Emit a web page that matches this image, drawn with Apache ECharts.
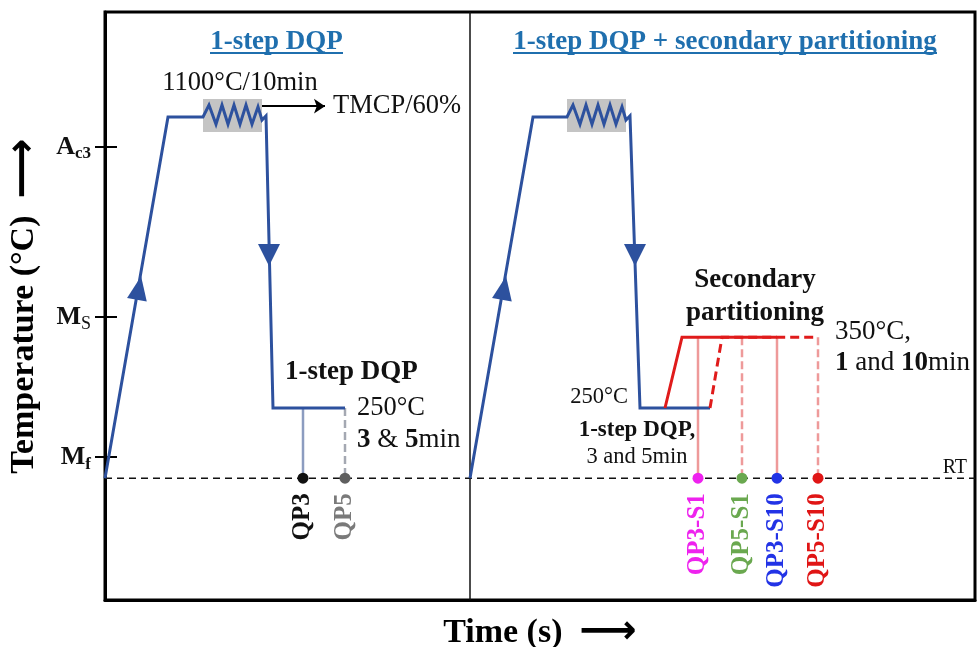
<!DOCTYPE html>
<html>
<head>
<meta charset="utf-8">
<script src="https://cdn.jsdelivr.net/npm/echarts@6/dist/echarts.min.js"></script>
<style>
  html, body { margin: 0; padding: 0; background: #fff; }
  #chart { width: 979px; height: 647px; }
</style>
</head>
<body>
<div id="chart"></div>
<script>
// Schematic heat-treatment routes: time (arbitrary units) vs temperature level (arbitrary units)

// Characteristic temperature levels on the vertical axis
const tempTickValues = [23.8, 47.2, 75.5];
const tempTickNames = ['{m|M}{s|f}', '{m|M}{r|S}', '{m|A}{s|c3}'];

// Left panel: 1-step DQP route (heating, austenitising hold, quench, 250 °C partitioning)
const leftRoute = [
  [0, 20.3], [6.3, 80.5], [9.8, 80.5],
  [10.4, 82.5], [11.1, 79.3], [11.7, 82.5], [12.3, 79.3], [12.9, 82.5],
  [13.5, 79.3], [14.1, 82.5], [14.7, 79.3], [15.3, 82.2], [15.7, 80.0], [16.1, 80.7],
  [16.8, 32], [24.0, 32]
];
const leftQP3 = [[19.8, 32], [19.8, 20.3]];
const leftQP5 = [[24.0, 32], [24.0, 20.3]];

// Right panel: 1-step DQP followed by secondary partitioning at 350 °C
const rightRoute = [
  [36.5, 20.3], [42.8, 80.5], [46.2, 80.5],
  [46.8, 82.5], [47.5, 79.3], [48.1, 82.5], [48.7, 79.3], [49.3, 82.5],
  [49.9, 79.3], [50.5, 82.5], [51.1, 79.3], [51.7, 82.2], [52.1, 80.0], [52.5, 80.7],
  [53.5, 32], [60.5, 32]
];
const secondaryFromQP3 = [[56.0, 32], [57.7, 43.8], [67.2, 43.8]];
const secondaryFromQP5 = [[60.5, 32], [61.7, 43.8], [71.3, 43.8]];
const quenchQP3S1 = [[59.3, 43.8], [59.3, 20.3]];
const quenchQP5S1 = [[63.7, 43.8], [63.7, 20.3]];
const quenchQP3S10 = [[67.2, 43.8], [67.2, 20.3]];
const quenchQP5S10 = [[71.3, 43.8], [71.3, 20.3]];

// Room temperature level and panel divider
const roomTemp = [[0, 20.3], [87, 20.3]];
const divider = [[36.5, 0], [36.5, 98]];

// Direction arrows along the heating and quenching legs
const heatArrows = [[3.4, 52], [39.9, 52]];
const quenchArrows = [[16.4, 57.5], [53.0, 57.5]];

// Furnace hold boxes
const holdBoxes = [[[9.8, 83.5], [15.7, 78.0]], [[46.2, 83.5], [52.1, 78.0]]];

// End-of-route sample markers
const samples = [
  { name: 'QP3', x: 19.8, color: '#111111', labelColor: '#111111' },
  { name: 'QP5', x: 24.0, color: '#5f5f5f', labelColor: '#7a7a7a' },
  { name: 'QP3-S1', x: 59.3, color: '#ee22ee', labelColor: '#ee22ee' },
  { name: 'QP5-S1', x: 63.7, color: '#6aa84f', labelColor: '#6aa84f' },
  { name: 'QP3-S10', x: 67.2, color: '#2233e6', labelColor: '#2233e6' },
  { name: 'QP5-S10', x: 71.3, color: '#e01515', labelColor: '#e01515' }
];

const FONT = 'Liberation Serif';
const BLUE = '#2d519e';
const PINK = '#ee9a9a';
const RED = '#e01b1b';
const TITLE_BLUE = '#1f6fae';

function lineSeries(data, color, width, type, z) {
  return {
    type: 'line', data: data, symbol: 'none', silent: true, z: z || 3,
    lineStyle: { color: color, width: width, type: type || 'solid', join: 'miter' },
    animation: false
  };
}

function textItem(x, y, text, style) {
  return {
    value: [x, y],
    label: Object.assign({
      show: true, position: [0, 0], formatter: text,
      fontFamily: FONT, color: '#111', align: 'left', verticalAlign: 'middle'
    }, style)
  };
}

const boldRich = size => ({ b: { fontFamily: FONT, fontSize: size, fontWeight: 'bold', color: '#111' } });

const textData = [
  textItem(17.15, 93.0, '1-step DQP', { align: 'center', fontSize: 27, fontWeight: 'bold', color: TITLE_BLUE }),
  textItem(62.0, 93.0, '1-step DQP + secondary partitioning', { align: 'center', fontSize: 27, fontWeight: 'bold', color: TITLE_BLUE }),
  textItem(13.5, 86.2, '1100°C/10min', { align: 'center', fontSize: 26.5 }),
  textItem(22.8, 82.3, 'TMCP/60%', { fontSize: 26.5 }),
  textItem(18.0, 38.0, '1-step DQP', { fontSize: 27, fontWeight: 'bold' }),
  textItem(25.2, 32.0, '250°C', { fontSize: 26.5 }),
  textItem(25.2, 26.7, '{b|3} & {b|5}min', { fontSize: 27, rich: boldRich(27) }),
  textItem(65.0, 53.3, 'Secondary', { align: 'center', fontSize: 27, fontWeight: 'bold' }),
  textItem(65.0, 47.8, 'partitioning', { align: 'center', fontSize: 27, fontWeight: 'bold' }),
  textItem(73.0, 44.7, '350°C,', { fontSize: 27 }),
  textItem(73.0, 39.5, '{b|1} and {b|10}min', { fontSize: 27, rich: boldRich(27) }),
  textItem(52.3, 33.8, '250°C', { align: 'right', fontSize: 22.5 }),
  textItem(53.2, 28.3, '1-step DQP,', { align: 'center', fontSize: 23, fontWeight: 'bold' }),
  textItem(53.2, 23.8, '3 and 5min', { align: 'center', fontSize: 22.5 }),
  textItem(86.2, 22.0, 'RT', { align: 'right', fontSize: 20 })
];

const sampleLabelData = samples.map(s => textItem(s.x, 17.8, s.name, {
  align: 'right', verticalAlign: 'middle', rotate: 90,
  fontSize: 25, fontWeight: 'bold', color: s.labelColor
}));

const solid = { opacity: 1 };

const option = {
  animation: false,
  backgroundColor: '#ffffff',
  grid: {
    left: 105, right: 4, top: 12, bottom: 47,
    outerBoundsMode: 'none', containLabel: false,
    show: true, borderColor: '#000', borderWidth: 3, backgroundColor: 'transparent'
  },
  xAxis: {
    type: 'value', min: 0, max: 87,
    axisLine: { show: true, lineStyle: { color: '#000', width: 3 } },
    axisTick: { show: false }, axisLabel: { show: false }, splitLine: { show: false },
    name: 'Time (s)  {a|⟶}', nameLocation: 'middle', nameGap: 13,
    nameTextStyle: {
      fontFamily: FONT, fontSize: 34, fontWeight: 'bold', color: '#000', verticalAlign: 'top',
      rich: { a: { fontFamily: 'DejaVu Sans', fontSize: 40, color: '#000' } }
    }
  },
  yAxis: [{
    type: 'value', min: 0, max: 98,
    axisLine: { show: true, lineStyle: { color: '#000', width: 3 } },
    axisTick: { show: true, inside: false, length: 10, lineStyle: { color: '#000', width: 2 }, customValues: tempTickValues },
    axisLabel: {
      show: true, margin: 14, customValues: tempTickValues,
      formatter: v => {
        const i = tempTickValues.indexOf(v);
        return i >= 0 ? tempTickNames[i] : '';
      },
      rich: {
        m: { fontFamily: FONT, fontSize: 26, fontWeight: 'bold', color: '#111' },
        s: { fontFamily: FONT, fontSize: 17, fontWeight: 'bold', color: '#111', padding: [14, 0, 0, 0] },
        r: { fontFamily: FONT, fontSize: 18, color: '#111', padding: [14, 0, 0, 0] }
      }
    },
    splitLine: { show: false },
    name: 'Temperature (°C)  {a|⟶}', nameLocation: 'middle', nameRotate: 90, nameGap: 58,
    nameTextStyle: {
      fontFamily: FONT, fontSize: 34, fontWeight: 'bold', color: '#000',
      rich: { a: { fontFamily: 'DejaVu Sans', fontSize: 42, color: '#000' } }
    }
  }, {
    type: 'value', min: 0, max: 98, position: 'left',
    axisLine: { show: false },
    axisTick: { show: true, inside: true, length: 12, lineStyle: { color: '#000', width: 2 }, customValues: tempTickValues },
    axisLabel: { show: false }, splitLine: { show: false }
  }],
  series: [
    // hold boxes
    {
      type: 'line', data: [], silent: true,
      markArea: {
        silent: true, itemStyle: { color: '#c4c4c4', opacity: 1 },
        data: holdBoxes.map(b => [{ coord: b[0] }, { coord: b[1] }])
      }
    },
    lineSeries(roomTemp, '#111', 1.6, [7, 5], 2),
    lineSeries(divider, '#111', 1.5, 'solid', 2),
    lineSeries(leftQP3, '#8c9cc0', 2.5, 'solid', 2),
    lineSeries(leftQP5, '#a4a8b2', 2.5, [8, 4], 2),
    lineSeries(quenchQP3S1, PINK, 2.5, 'solid', 2),
    lineSeries(quenchQP5S1, PINK, 2.5, [8, 4], 2),
    lineSeries(quenchQP3S10, PINK, 2.5, 'solid', 2),
    lineSeries(quenchQP5S10, PINK, 2.5, [8, 4], 2),
    lineSeries(leftRoute, BLUE, 3, 'solid', 4),
    lineSeries(rightRoute, BLUE, 3, 'solid', 4),
    lineSeries(secondaryFromQP3, RED, 3, 'solid', 5),
    lineSeries(secondaryFromQP5, RED, 3, [9, 5], 5),
    // arrow glyphs and underlines
    {
      type: 'lines', coordinateSystem: 'cartesian2d', silent: true, z: 5,
      symbol: ['none', 'arrow'], symbolSize: 11,
      lineStyle: { color: '#000', width: 2, opacity: 1 },
      data: [{ coords: [[15.7, 82.3], [22.0, 82.3]] }]
    },
    {
      type: 'lines', coordinateSystem: 'cartesian2d', silent: true, z: 5,
      symbol: 'none',
      lineStyle: { color: TITLE_BLUE, width: 2, opacity: 1 },
      data: [{ coords: [[10.5, 91.2], [23.8, 91.2]] }, { coords: [[40.8, 91.2], [83.2, 91.2]] }]
    },
    {
      type: 'scatter', data: heatArrows, symbol: 'triangle', symbolSize: [20, 24],
      symbolRotate: -10, itemStyle: { color: BLUE, opacity: 1 }, silent: true, z: 6
    },
    {
      type: 'scatter', data: quenchArrows, symbol: 'triangle', symbolSize: [22, 22],
      symbolRotate: 180, itemStyle: { color: BLUE, opacity: 1 }, silent: true, z: 6
    },
    // sample markers on the RT line
    {
      type: 'scatter', symbol: 'circle', symbolSize: 11, silent: true, z: 7,
      itemStyle: solid,
      data: samples.map(s => ({ value: [s.x, 20.3], itemStyle: { color: s.color, opacity: 1 } }))
    },
    // text annotations
    { type: 'scatter', symbolSize: 0, silent: true, z: 8, itemStyle: solid, data: textData },
    { type: 'scatter', symbolSize: 0, silent: true, z: 8, itemStyle: solid, data: sampleLabelData }
  ]
};

const chart = echarts.init(document.getElementById('chart'), null, { renderer: 'canvas' });
chart.setOption(option);
</script>
</body>
</html>
